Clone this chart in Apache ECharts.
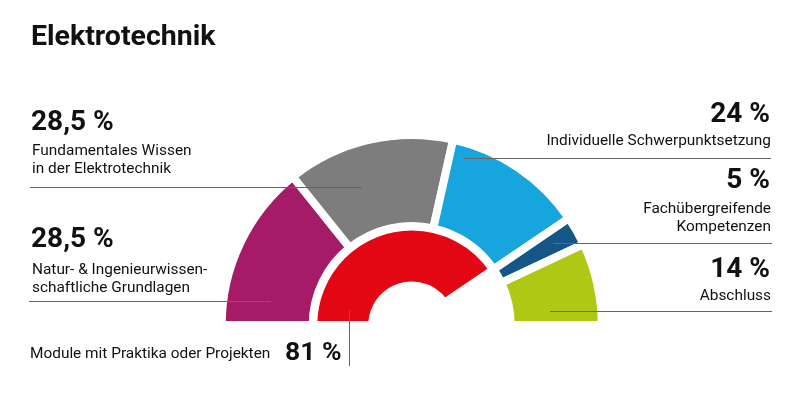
<!DOCTYPE html>
<html>
<head>
<meta charset="utf-8">
<script src="https://cdn.jsdelivr.net/npm/echarts@6/dist/echarts.min.js"></script>
<style>
html,body{margin:0;padding:0;background:#fff;}
#chart{width:800px;height:393px;}
</style>
</head>
<body>
<div id="chart"></div>
<script>
// ---- data ----
const chartTitle = 'Elektrotechnik';
const outerNames = ['Natur- & Ingenieurwissenschaftliche Grundlagen', 'Fundamentales Wissen in der Elektrotechnik', 'Individuelle Schwerpunktsetzung', 'Fachübergreifende Kompetenzen', 'Abschluss'];
const outerLabelLines = [
  ['Natur- & Ingenieurwissen-', 'schaftliche Grundlagen'],
  ['Fundamentales Wissen', 'in der Elektrotechnik'],
  ['Individuelle Schwerpunktsetzung'],
  ['Fachübergreifende', 'Kompetenzen'],
  ['Abschluss']
];
const outerValues = [28.5, 28.5, 24, 5, 14];
const innerName = 'Module mit Praktika oder Projekten';
const innerValue = 81;

const outerColors = ['#A61B67', '#7C7D7C', '#16A5DC', '#145787', '#AEC814'];
const innerColor = '#E30613';

function pct(v) { return String(v).replace('.', ',') + ' %'; }

const FONT = 'Roboto, "Noto Sans", sans-serif';
const SMALL = 15.4;
function txt(x, baseline, str, size, weight, align) {
  return {
    type: 'text',
    style: {
      x: x, y: baseline - 0.33 * size, text: str,
      font: weight + ' ' + size + 'px ' + FONT,
      fill: '#111', align: align || 'left', verticalAlign: 'middle'
    },
    silent: true
  };
}
function hline(x1, x2, y) {
  return { type: 'line', shape: { x1: x1, y1: y, x2: x2, y2: y }, style: { stroke: '#666', lineWidth: 1 }, silent: true, z: 10 };
}

const cx = 411.7, cy = 325, bw = 8;
const outerTotal = outerValues.reduce((a, b) => a + b, 0);

const outerData = outerValues.map((v, i) => ({ name: outerNames[i], value: v, itemStyle: { color: outerColors[i] } }));
outerData.push({ name: 'rest', value: outerTotal, itemStyle: { color: 'rgba(0,0,0,0)', borderWidth: 0 } });

const innerData = [
  { name: innerName, value: innerValue, itemStyle: { color: innerColor } },
  { name: 'rest1', value: 100 - innerValue, itemStyle: { color: 'rgba(0,0,0,0)', borderWidth: 0 } },
  { name: 'rest2', value: 100, itemStyle: { color: 'rgba(0,0,0,0)', borderWidth: 0 } }
];

const graphics = [
  txt(31, 47, chartTitle, 28.5, 'bold'),
  // left block: Fundamentales Wissen (index 1)
  txt(31, 132.5, pct(outerValues[1]), 28, 'bold'),
  txt(32, 156, outerLabelLines[1][0], SMALL, 'normal'),
  txt(32, 174, outerLabelLines[1][1], SMALL, 'normal'),
  hline(30, 362, 187.5),
  // left block: Natur (index 0)
  txt(31, 249.5, pct(outerValues[0]), 28, 'bold'),
  txt(32, 275, outerLabelLines[0][0], SMALL, 'normal'),
  txt(32, 293.5, outerLabelLines[0][1], SMALL, 'normal'),
  hline(29, 271, 301.5),
  // inner
  txt(30, 359, innerName, SMALL, 'normal'),
  txt(285, 361.7, pct(innerValue), 26.5, 'bold'),
  { type: 'line', shape: { x1: 349.5, y1: 310, x2: 349.5, y2: 366 }, style: { stroke: '#666', lineWidth: 1 }, silent: true, z: 10 },
  // right: index 2
  txt(770, 124, pct(outerValues[2]), 28, 'bold', 'right'),
  txt(771, 146.5, outerLabelLines[2][0], SMALL, 'normal', 'right'),
  hline(464, 771, 158.5),
  // right: index 3
  txt(770, 190, pct(outerValues[3]), 28, 'bold', 'right'),
  txt(771, 214, outerLabelLines[3][0], SMALL, 'normal', 'right'),
  txt(771, 232.5, outerLabelLines[3][1], SMALL, 'normal', 'right'),
  hline(553, 772, 243.5),
  // right: index 4
  txt(770, 279, pct(outerValues[4]), 28, 'bold', 'right'),
  txt(771, 301.5, outerLabelLines[4][0], SMALL, 'normal', 'right'),
  hline(550, 772, 311.5)
];

const chart = echarts.init(document.getElementById('chart'), null, { renderer: 'canvas' });
chart.setOption({
  animation: false,
  backgroundColor: '#fff',
  series: [
    {
      type: 'pie', silent: true,
      center: [cx, cy], radius: [99, 190],
      startAngle: 180, clockwise: true,
      avoidLabelOverlap: false, minAngle: 0,
      label: { show: false }, labelLine: { show: false },
      itemStyle: { borderColor: '#fff', borderWidth: bw },
      emphasis: { disabled: true },
      data: outerData
    },
    {
      type: 'pie', silent: true,
      center: [cx, cy], radius: [39.4, 98.4],
      startAngle: 180, clockwise: true,
      avoidLabelOverlap: false, minAngle: 0,
      label: { show: false }, labelLine: { show: false },
      itemStyle: { borderColor: '#fff', borderWidth: bw },
      emphasis: { disabled: true },
      data: innerData
    }
  ],
  graphic: { elements: graphics }
});
</script>
</body>
</html>
